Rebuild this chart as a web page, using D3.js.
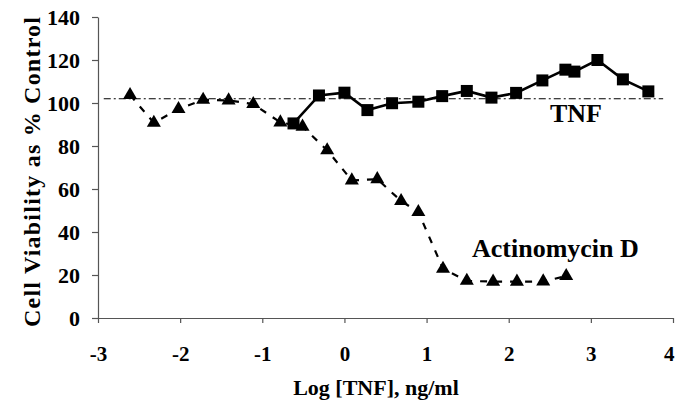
<!DOCTYPE html>
<html><head><meta charset="utf-8">
<script src="https://cdn.jsdelivr.net/npm/d3@7"></script>
<style>body{margin:0;background:#fff}svg{display:block}</style>
</head><body><svg id="c" width="676" height="401"></svg>
<script>
const xTicks = [-3,-2,-1,0,1,2,3,4];
const yTicks = [0,20,40,60,80,100,120,140];
const actX = [-2.61,-2.32,-2.02,-1.72,-1.41,-1.11,-0.78,-0.51,-0.21,0.09,0.40,0.69,0.90,1.20,1.49,1.81,2.10,2.42,2.70];
const actY = [103.7,90.8,97.2,101.5,101.2,99.5,91,89,78,64,64.6,54.4,49.3,22.9,17.3,16.9,16.9,17,19.5];
const tnfX = [-0.62,-0.31,0.00,0.28,0.58,0.90,1.19,1.49,1.79,2.09,2.41,2.69,2.80,3.08,3.39,3.70];
const tnfY = [90.5,103.5,104.8,96.7,99.9,100.6,103.2,105.6,102.5,104.7,110.5,115.5,114.6,120,111,105.4];
const refY = 102;

const FONT = '"Liberation Serif"';
const svg = d3.select("#c");
const x = d3.scaleLinear().domain([-3,4]).range([98,673]);
const y = d3.scaleLinear().domain([0,140]).range([318,17]);

const xa = svg.append("g").attr("transform","translate(0,318)")
  .call(d3.axisBottom(x).tickValues(xTicks).tickSize(5).tickSizeOuter(0));
const ya = svg.append("g").attr("transform","translate(98,0)")
  .call(d3.axisLeft(y).tickValues(yTicks).tickSize(6).tickSizeOuter(0));
[xa,ya].forEach(a=>{
  a.selectAll("path,line").attr("stroke","#555").attr("stroke-width",1.2);
  a.selectAll("text").style("font-family",FONT).style("font-weight","bold").attr("fill","#000");});
xa.selectAll("text").style("font-size","21px").attr("dy","1.65em").text(d=>d<0?"-"+Math.abs(d):d)
  .attr("dx",d=>d===4?"-0.2em":0);
ya.selectAll("text").style("font-size","22px").attr("dx","-9px").attr("dy","0.35em");

// reference dash-dot line
svg.append("line").attr("x1",x(-2.93)).attr("x2",x(3.88)).attr("y1",y(refY)).attr("y2",y(refY))
  .attr("stroke","#000").attr("stroke-width",1.1).attr("stroke-dasharray","7,3,2,3");

const line = d3.line().x(d=>x(d[0])).y(d=>y(d[1]));
const act = actX.map((v,i)=>[v,actY[i]]);
const tnf = tnfX.map((v,i)=>[v,tnfY[i]]);

svg.append("path").attr("d",line(act)).attr("fill","none").attr("stroke","#000").attr("stroke-width",2.2).attr("stroke-dasharray","7,8");
svg.append("path").attr("d",line(tnf)).attr("fill","none").attr("stroke","#000").attr("stroke-width",2.6);

const tri = d3.symbol().type(d3.symbolTriangle).size(85);
svg.selectAll(".t").data(act).join("path").attr("d",tri)
  .attr("transform",d=>`translate(${x(d[0])},${y(d[1])})`).attr("fill","#000");
svg.selectAll(".s").data(tnf).join("rect")
  .attr("x",d=>x(d[0])-6).attr("y",d=>y(d[1])-6).attr("width",12).attr("height",12).attr("fill","#000");

function t(sel){return sel.style("font-family",FONT).style("font-weight","bold").attr("fill","#000");}
t(svg.append("text")).attr("x",576).attr("y",122).attr("text-anchor","middle").style("font-size","26px").text("TNF");
t(svg.append("text")).attr("x",472).attr("y",257).style("font-size","26px").text("Actinomycin D");
t(svg.append("text")).attr("x",376).attr("y",395).attr("text-anchor","middle").style("font-size","22px").text("Log [TNF], ng/ml");
t(svg.append("text")).attr("transform","translate(40,172) rotate(-90)").attr("text-anchor","middle").style("font-size","24px")
  .attr("textLength",310).attr("lengthAdjust","spacing").text("Cell Viability as % Control");
</script></body></html>
